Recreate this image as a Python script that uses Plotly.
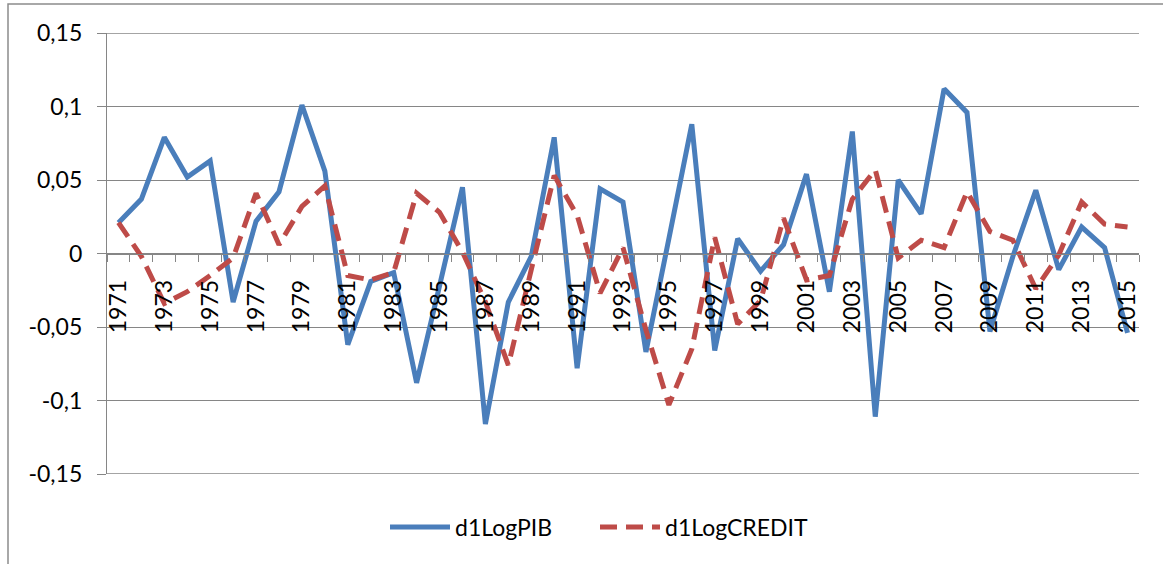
import plotly.graph_objects as go

years = list(range(1971, 2016))

d1LogPIB = [0.021, 0.037, 0.079, 0.052, 0.063, -0.033, 0.022, 0.042, 0.101, 0.056,
            -0.062, -0.019, -0.013, -0.088, -0.022, 0.045, -0.116, -0.033, -0.002, 0.079,
            -0.078, 0.044, 0.035, -0.067, 0.010, 0.088, -0.066, 0.010, -0.012, 0.006,
            0.054, -0.026, 0.083, -0.111, 0.050, 0.027, 0.112, 0.096, -0.053, -0.002,
            0.043, -0.011, 0.018, 0.004, -0.054]

d1LogCREDIT = [0.021, -0.002, -0.034, -0.026, -0.015, -0.003, 0.041, 0.006, 0.032, 0.046,
               -0.015, -0.018, -0.013, 0.041, 0.028, 0.001, -0.033, -0.076, -0.011, 0.053,
               0.026, -0.027, 0.004, -0.052, -0.103, -0.065, 0.011, -0.048, -0.032, 0.024,
               -0.018, -0.015, 0.037, 0.057, -0.003, 0.009, 0.004, 0.042, 0.015, 0.009,
               -0.024, -0.001, 0.035, 0.020, 0.018]

y_tickvals = [0.15, 0.1, 0.05, 0, -0.05, -0.1, -0.15]
y_ticktext = ["0,15", "0,1", "0,05", "0", "-0,05", "-0,1", "-0,15"]
x_tickvals = list(range(1971, 2016, 2))

GRID = "#868686"
FONT = "Lato"
W, H = 1163, 564
L, R, T, B = 107, 24, 33, 90
PW, PH = W - L - R, H - T - B

fig = go.Figure()
fig.add_trace(go.Scatter(x=years, y=d1LogPIB, mode="lines", name="d1LogPIB",
                         line=dict(color="#4A7EBB", width=5), legend="legend"))
fig.add_trace(go.Scatter(x=years, y=d1LogCREDIT, mode="lines", name="d1LogCREDIT",
                         line=dict(color="#BE4B48", width=5, dash="17px,9px"),
                         legend="legend2"))

leg_common = dict(orientation="h", xanchor="left", y=(H - B - 527) / PH, yanchor="middle",
                  font=dict(size=23), itemwidth=60, bgcolor="rgba(0,0,0,0)")

fig.update_layout(
    width=W, height=H,
    margin=dict(l=L, r=R, t=T, b=B),
    paper_bgcolor="white", plot_bgcolor="white",
    font=dict(family=FONT, size=23, color="black"),
    showlegend=True,
    legend=dict(x=(385 - L) / PW, **leg_common),
    legend2=dict(x=(595 - L) / PW, **leg_common),
    xaxis=dict(
        range=[1970.5, 2015.5],
        tickmode="array", tickvals=x_tickvals, ticktext=[str(v) for v in x_tickvals],
        tickangle=-90, ticks="", showgrid=False,
        showline=True, linecolor=GRID, linewidth=1.3,
        anchor="free", position=0.5,
        ticklabelstandoff=16,
        minor=dict(tickmode="linear", tick0=1970.5, dtick=1, ticks="outside",
                   ticklen=7, tickcolor=GRID, tickwidth=1.3, showgrid=False),
        zeroline=False,
    ),
    yaxis=dict(
        range=[-0.15, 0.15],
        tickmode="array", tickvals=y_tickvals, ticktext=y_ticktext,
        ticks="outside", ticklen=9, tickcolor=GRID, tickwidth=1.3,
        showgrid=True, gridcolor=GRID, gridwidth=1.3,
        showline=True, linecolor=GRID, linewidth=1.3,
        zeroline=False, ticklabelstandoff=10,
    ),
)

# edge gridlines (top and bottom of the value range)
for yv in (y_tickvals[0], y_tickvals[-1]):
    fig.add_shape(type="line", xref="paper", yref="y", x0=0, x1=1, y0=yv, y1=yv,
                  line=dict(color=GRID, width=1.3), layer="below")

# chart border
fig.add_shape(type="rect", xref="paper", yref="paper",
              x0=(8 - L) / PW, x1=1.2, y0=-0.4, y1=(H - B - 4) / PH,
              line=dict(color="#8C8C8C", width=1.5), fillcolor="rgba(0,0,0,0)", layer="below")

fig.write_html("out.html", config={"displayModeBar": False},
               post_script="document.body.style.margin='0px';")
